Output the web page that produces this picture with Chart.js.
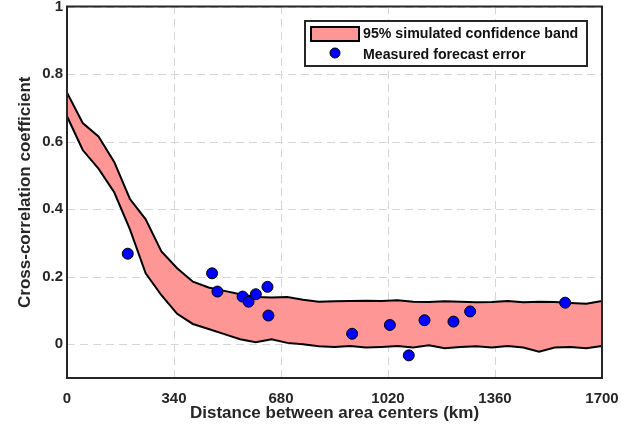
<!DOCTYPE html>
<html>
<head>
<meta charset="utf-8">
<script src="https://cdn.jsdelivr.net/npm/chart.js@4/dist/chart.umd.min.js"></script>
<style>
  html, body { margin: 0; padding: 0; background: #fff; }
  #wrap { width: 639px; height: 434px; }
</style>
</head>
<body>
<div id="wrap"><canvas id="c" width="639" height="434"></canvas></div>
<script>
// band sampled every 50 km
const bandX = [0,50,100,150,200,250,300,350,400,450,500,550,600,650,700,750,800,850,
  900,950,1000,1050,1100,1150,1200,1250,1300,1350,1400,1450,1500,1550,1600,1650,1700];
const bandUpper = [0.745,0.655,0.615,0.54,0.43,0.37,0.275,0.225,0.185,0.168,0.158,0.148,0.14,0.138,
  0.14,0.132,0.126,0.127,0.128,0.129,0.128,0.13,0.126,0.125,0.127,0.126,0.124,0.125,0.128,0.124,
  0.126,0.125,0.122,0.12,0.128];
const bandLower = [0.675,0.575,0.52,0.45,0.34,0.21,0.145,0.09,0.06,0.045,0.03,0.015,0.006,0.015,
  0.004,0.0,-0.006,-0.008,-0.005,-0.01,-0.008,-0.005,-0.01,-0.003,-0.012,-0.008,-0.006,-0.01,
  -0.005,-0.01,-0.022,-0.01,-0.008,-0.012,-0.005];

const measX = [193,461,478,558,577,600,637,640,906,1026,1086,1136,1228,1281,1583];
const measY = [0.268,0.21,0.156,0.141,0.126,0.148,0.17,0.085,0.031,0.057,-0.033,0.071,0.067,0.097,0.123];

const xTicks = [0,340,680,1020,1360,1700];
const yTicks = [0,0.2,0.4,0.6,0.8,1];

const ink = '#262626';
const pink = '#ff9696';

// dashed grid under the data
const grid = {
  id: 'grid',
  beforeDatasetsDraw(chart) {
    const {ctx, chartArea: a, scales: {x, y}} = chart;
    ctx.save();
    ctx.strokeStyle = '#d6d6d6';
    ctx.lineWidth = 1;
    ctx.setLineDash([8, 5]);
    xTicks.forEach(v => {
      const px = Math.round(x.getPixelForValue(v)) + 0.5;
      ctx.beginPath(); ctx.moveTo(px, a.bottom); ctx.lineTo(px, a.top); ctx.stroke();
    });
    yTicks.forEach(v => {
      const py = Math.round(y.getPixelForValue(v)) + 0.5;
      ctx.beginPath(); ctx.moveTo(a.left, py); ctx.lineTo(a.right, py); ctx.stroke();
    });
    ctx.restore();
  }
};

const frame = {
  id: 'frame',
  afterDraw(chart) {
    const {ctx, chartArea: a} = chart;
    ctx.save();
    ctx.strokeStyle = ink;
    ctx.lineWidth = 2;
    ctx.strokeRect(a.left, a.top, a.right - a.left, a.bottom - a.top);
    // legend box
    const bx = 305, by = 21, bw = 282, bh = 45;
    ctx.fillStyle = '#fff';
    ctx.fillRect(bx, by, bw, bh);
    ctx.lineWidth = 2;
    ctx.strokeRect(bx, by, bw, bh);
    ctx.fillStyle = pink;
    ctx.fillRect(311, 27, 48, 14);
    ctx.strokeStyle = '#000';
    ctx.strokeRect(311, 27, 48, 14);
    ctx.beginPath();
    ctx.arc(335, 53, 5, 0, Math.PI * 2);
    ctx.fillStyle = '#0000ff';
    ctx.fill();
    ctx.lineWidth = 1;
    ctx.stroke();
    ctx.fillStyle = '#111';
    ctx.font = 'bold 14.2px "Liberation Sans", Arial, sans-serif';
    ctx.textBaseline = 'middle';
    ctx.textAlign = 'left';
    ctx.fillText(chart.data.datasets[0].label, 363, 34);
    ctx.fillText(chart.data.datasets[2].label, 363, 55);
    ctx.restore();
  }
};

const tickFont = {family: '"Liberation Sans", Arial, sans-serif', size: 15, weight: 'bold'};
const titleFont = {family: '"Liberation Sans", Arial, sans-serif', size: 17, weight: 'bold'};

new Chart(document.getElementById('c'), {
  type: 'scatter',
  data: {
    datasets: [
      {
        label: '95% simulated confidence band',
        data: bandX.map((x, i) => ({x: x, y: bandUpper[i]})),
        showLine: true, pointRadius: 0, borderColor: '#000', borderWidth: 2,
        backgroundColor: pink, fill: '+1', tension: 0, order: 2
      },
      {
        label: 'lower',
        data: bandX.map((x, i) => ({x: x, y: bandLower[i]})),
        showLine: true, pointRadius: 0, borderColor: '#000', borderWidth: 2,
        backgroundColor: pink, fill: false, tension: 0, order: 1
      },
      {
        label: 'Measured forecast error',
        data: measX.map((x, i) => ({x: x, y: measY[i]})),
        pointRadius: 5.5, pointBackgroundColor: '#0000ff', pointBorderColor: '#000',
        pointBorderWidth: 1, showLine: false, order: 0
      }
    ]
  },
  options: {
    responsive: false,
    animation: false,
    layout: {padding: {top: 6, right: 37, left: 0, bottom: 0}},
    plugins: {legend: {display: false}, tooltip: {enabled: false}},
    scales: {
      x: {
        type: 'linear', min: 0, max: 1700,
        afterBuildTicks(s) { s.ticks = xTicks.map(v => ({value: v})); },
        afterFit(s) { s.height = 56; },
        ticks: {color: ink, font: tickFont, padding: 12, maxRotation: 0, callback: v => String(v)},
        grid: {display: false, drawTicks: false},
        border: {display: false},
        title: {display: true, text: 'Distance between area centers (km)', color: ink, font: titleFont,
          padding: {top: 0, bottom: 10}}
      },
      y: {
        type: 'linear', min: -0.1, max: 1,
        afterBuildTicks(s) { s.ticks = yTicks.map(v => ({value: v})); },
        afterFit(s) { s.width = 67; s.paddingTop = 0; s.paddingBottom = 0; },
        ticks: {color: ink, font: tickFont, padding: 4, callback: v => String(Math.round(v * 10) / 10)},
        grid: {display: false, drawTicks: false},
        border: {display: false},
        title: {display: true, text: 'Cross-correlation coefficient', color: ink, font: titleFont,
          padding: {top: 15, bottom: 0}}
      }
    }
  },
  plugins: [grid, frame]
});
</script>
</body>
</html>
